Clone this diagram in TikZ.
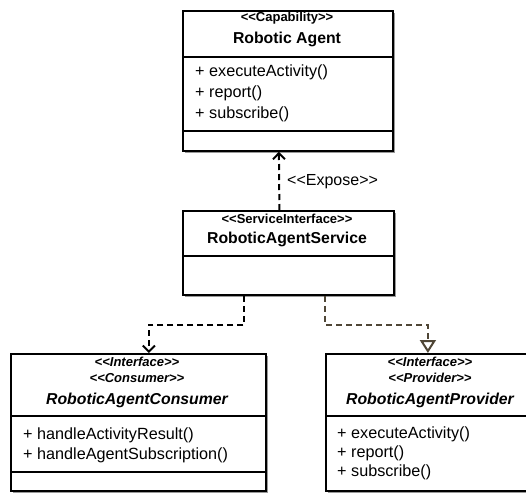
\documentclass[tikz,border=0pt]{standalone}
\usepackage{fontspec}
\setmainfont{Liberation Sans}
\usetikzlibrary{arrows.meta,shadows}
\definecolor{provc}{HTML}{4F4636}
\newcommand\lsg{<\kern0pt<}
\newcommand\rsg{>\kern0pt>}
\begin{document}
\begin{tikzpicture}[x=1pt,y=-1pt,
 umlbox/.style={draw=black, line width=1.8pt, fill=white, anchor=north west, inner sep=0pt,
   drop shadow={shadow xshift=2pt, shadow yshift=-2pt, fill=black!40, opacity=1}},
 sep/.style={line width=1.4pt},
 stereo/.style={font=\bfseries\fontsize{13}{15}\selectfont, inner sep=0pt},
 stereoi/.style={font=\bfseries\itshape\fontsize{13}{15}\selectfont, inner sep=0pt},
 title/.style={font=\bfseries\fontsize{15.8}{18}\selectfont, inner sep=0pt},
 titlei/.style={font=\bfseries\itshape\fontsize{15.8}{18}\selectfont, inner sep=0pt},
 meth/.style={font=\fontsize{16.2}{19}\selectfont, anchor=west, inner sep=0pt},
 dep/.style={line width=2pt, dash pattern=on 6pt off 4pt},
 lbl/.style={font=\fontsize{16}{19}\selectfont, anchor=west, inner sep=0pt},
 barb/.style={-{Straight Barb[length=6pt,width=12pt,line width=2pt]}}
]
\useasboundingbox (0,0) rectangle (526,492);

% boxes
\node[umlbox, minimum width=210pt, minimum height=140pt] (cap) at (182,10) {};
\node[umlbox, minimum width=211pt, minimum height=84pt] (svc) at (182,210) {};
\node[umlbox, minimum width=255pt, minimum height=137pt] (cons) at (10,353) {};
\node[umlbox, minimum width=210pt, minimum height=137pt] (prov) at (325,353) {};

% separators
\draw[sep] (cap.west |- 0,57) -- (cap.east |- 0,57);
\draw[sep] (cap.west |- 0,131) -- (cap.east |- 0,131);
\draw[sep] (svc.west |- 0,256) -- (svc.east |- 0,256);
\draw[sep] (cons.west |- 0,416) -- (cons.east |- 0,416);
\draw[sep] (cons.west |- 0,472) -- (cons.east |- 0,472);
\draw[sep] (prov.west |- 0,416) -- (prov.east |- 0,416);

% texts: Capability
\node[stereo] (capst) at (287,18) {\lsg Capability\rsg};
\node[title] (capt) at (287,39) {Robotic Agent};
\node[meth] (capm1) at (195,72) {+ executeActivity()};
\node[meth] (capm2) at (195,93) {+ report()};
\node[meth] (capm3) at (195,114) {+ subscribe()};

% Service
\node[stereo] (svcst) at (287,219) {\lsg ServiceInterface\rsg};
\node[title] (svct) at (287,239) {RoboticAgentService};

% Consumer
\node[stereoi] (consst1) at (137,362) {\lsg Interface\rsg};
\node[stereoi] (consst2) at (137,378) {\lsg Consumer\rsg};
\node[titlei] (const) at (137,400) {RoboticAgentConsumer};
\node[meth] (consm1) at (23,435) {+ handleActivityResult()};
\node[meth] (consm2) at (23,455) {+ handleAgentSubscription()};

% Provider
\node[stereoi] (provst1) at (430,362) {\lsg Interface\rsg};
\node[stereoi] (provst2) at (430,378) {\lsg Provider\rsg};
\node[titlei] (provt) at (430,400) {RoboticAgentProvider};
\node[meth] (provm1) at (337,434) {+ executeActivity()};
\node[meth] (provm2) at (337,453) {+ report()};
\node[meth] (provm3) at (337,472) {+ subscribe()};

% connectors
\draw[dep, barb] ([xshift=-9pt]svc.north) -- ([xshift=-9pt]cap.south);
\node[lbl] (expl) at (287,182) {\lsg Expose\rsg};
\draw[dep, barb] ([xshift=-44pt]svc.south) -- ++(0,29) -| ([xshift=10.5pt]cons.north);
\draw[dep, draw=provc, -{Triangle[open, length=13pt, width=16pt, fill=white, line width=2pt]}] ([xshift=37pt]svc.south) -- ++(0,29) -| ([xshift=-3pt]prov.north);
\end{tikzpicture}
\end{document}
